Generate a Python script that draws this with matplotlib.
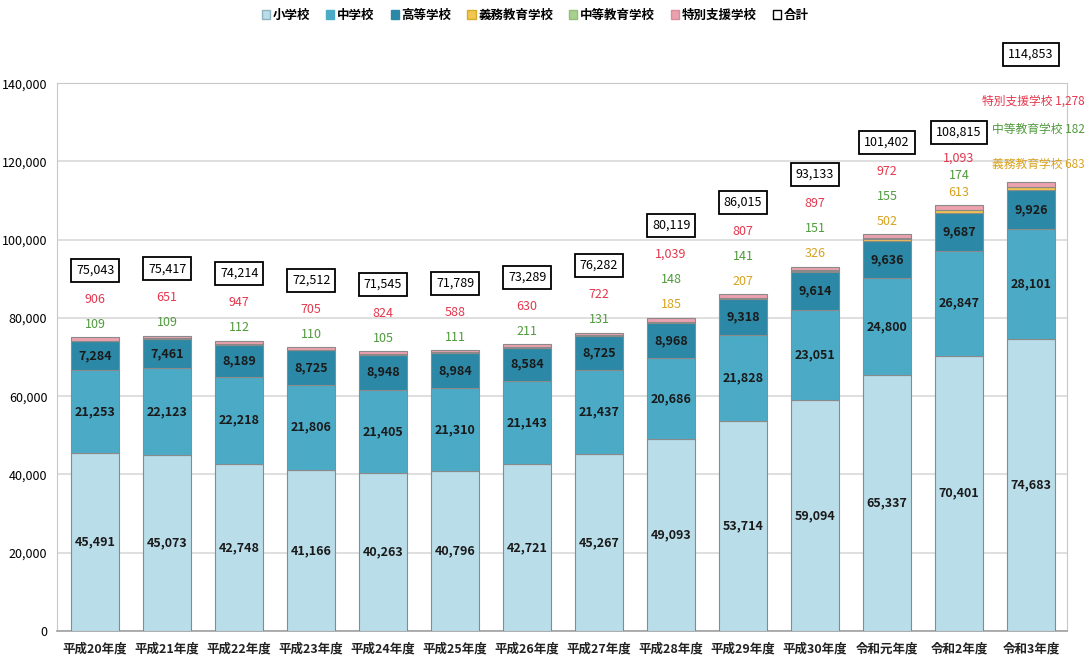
import matplotlib
matplotlib.use('Agg')
import matplotlib.pyplot as plt
from matplotlib.patches import Patch

plt.rcParams['font.family'] = ['Noto Sans CJK JP', 'DejaVu Sans']

years = ['平成20年度', '平成21年度', '平成22年度', '平成23年度', '平成24年度',
         '平成25年度', '平成26年度', '平成27年度', '平成28年度', '平成29年度',
         '平成30年度', '令和元年度', '令和2年度', '令和3年度']

elementary = [45491, 45073, 42748, 41166, 40263, 40796, 42721, 45267, 49093,
              53714, 59094, 65337, 70401, 74683]
junior = [21253, 22123, 22218, 21806, 21405, 21310, 21143, 21437, 20686,
          21828, 23051, 24800, 26847, 28101]
high = [7284, 7461, 8189, 8725, 8948, 8984, 8584, 8725, 8968, 9318, 9614,
        9636, 9687, 9926]
compulsory = [0, 0, 0, 0, 0, 0, 0, 0, 185, 207, 326, 502, 613, 683]
secondary = [109, 109, 112, 110, 105, 111, 211, 131, 148, 141, 151, 155, 174, 182]
special = [906, 651, 947, 705, 824, 588, 630, 722, 1039, 807, 897, 972, 1093, 1278]
totals = [75043, 75417, 74214, 72512, 71545, 71789, 73289, 76282, 80119,
          86015, 93133, 101402, 108815, 114853]

series_names = ['小学校', '中学校', '高等学校', '義務教育学校', '中等教育学校', '特別支援学校']
bar_colors = ['#b9dde9', '#4babc7', '#2b88a6', '#f3c64e', '#a9d18e', '#eba2ae']
legend_edges = ['#8fb3c0', '#4babc7', '#2b88a6', '#d6ab2a', '#93bd7a', '#d98c99']
text_colors = {'義務教育学校': '#d8a21e', '中等教育学校': '#4f9a3c', '特別支援学校': '#e4384e'}

fig = plt.figure(figsize=(10.88, 6.66), dpi=100)
ax = fig.add_axes([0.0524, 0.0526, 0.9283, 0.8224])

x = list(range(len(years)))
width = 0.667
bottom = [0] * len(years)
for values, color in zip([elementary, junior, high, compulsory, secondary, special], bar_colors):
    ax.bar(x, values, width, bottom=bottom, color=color, edgecolor='#8a8a8a',
           linewidth=0.8, zorder=3)
    bottom = [b + v for b, v in zip(bottom, values)]

# values inside the three big segments
base = [0] * len(years)
for values in [elementary, junior, high]:
    for i, v in enumerate(values):
        ax.text(i, base[i] + v / 2, f'{v:,}', ha='center', va='center',
                fontsize=9, fontweight='bold', color='#1a1a1a', zorder=5)
    base = [b + v for b, v in zip(base, values)]

# small categories stacked above each bar, then the boxed total
box = dict(boxstyle='square,pad=0.4', fc='white', ec='black', lw=1.3)
last = len(years) - 1
for i in range(last):
    top = bottom[i]
    items = []
    if compulsory[i] > 0:
        items.append((compulsory[i], text_colors['義務教育学校']))
    items.append((secondary[i], text_colors['中等教育学校']))
    items.append((special[i], text_colors['特別支援学校']))
    step, box_step = (17, 26) if i == last - 1 else (25, 29)
    off = 13
    for v, c in items:
        ax.annotate(f'{v:,}', (i, top), xytext=(0, off), textcoords='offset pixels',
                    ha='center', va='center', fontsize=9, color=c)
        off += step
    off += box_step - step
    ax.annotate(f'{totals[i]:,}', (i, top), xytext=(0, off), textcoords='offset pixels',
                ha='center', va='center', fontsize=9, color='black', bbox=box)

# the latest year carries named labels at its right
top = bottom[last]
named = [('義務教育学校', compulsory[last], 17), ('中等教育学校', secondary[last], 52),
         ('特別支援学校', special[last], 80)]
for name, v, off in named:
    ax.annotate(f'{name} {v:,}', (last, top), xytext=(54, off), textcoords='offset pixels',
                ha='right', va='center', fontsize=8.5, color=text_colors[name],
                annotation_clip=False)
ax.annotate(f'{totals[last]:,}', (last, top), xytext=(0, 127), textcoords='offset pixels',
            ha='center', va='center', fontsize=9, color='black', bbox=box,
            annotation_clip=False)

ax.set_xlim(-0.53, 13.5)
ax.set_ylim(0, 140000)
ax.set_yticks(range(0, 140001, 20000))
ax.set_yticklabels([f'{v:,}' for v in range(0, 140001, 20000)], fontsize=9)
ax.set_xticks(x)
ax.set_xticklabels(years, fontsize=9, fontweight='bold', color='#222222')
ax.tick_params(length=0)
ax.tick_params(axis='x', pad=8)
ax.tick_params(axis='y', pad=7)
ax.grid(axis='y', color='#d9d9d9', linewidth=1.2, zorder=0)
for side in ['top', 'right', 'left']:
    ax.spines[side].set_color('#c8c8c8')
ax.spines['bottom'].set_color('#a0a0a0')
ax.spines['bottom'].set_linewidth(1.2)

handles = [Patch(facecolor=fc, edgecolor=ec, linewidth=1.0)
           for fc, ec in zip(bar_colors, legend_edges)]
handles.append(Patch(facecolor='white', edgecolor='black', linewidth=1.0))
labels = series_names + ['合計']
fig.legend(handles, labels, loc='center', bbox_to_anchor=(0.492, 0.977), ncol=7,
           frameon=False, handlelength=0.65, handleheight=0.65, handletextpad=0.2,
           columnspacing=1.3, prop={'size': 9, 'weight': 'bold'})

fig.savefig('out.png', dpi=100)
